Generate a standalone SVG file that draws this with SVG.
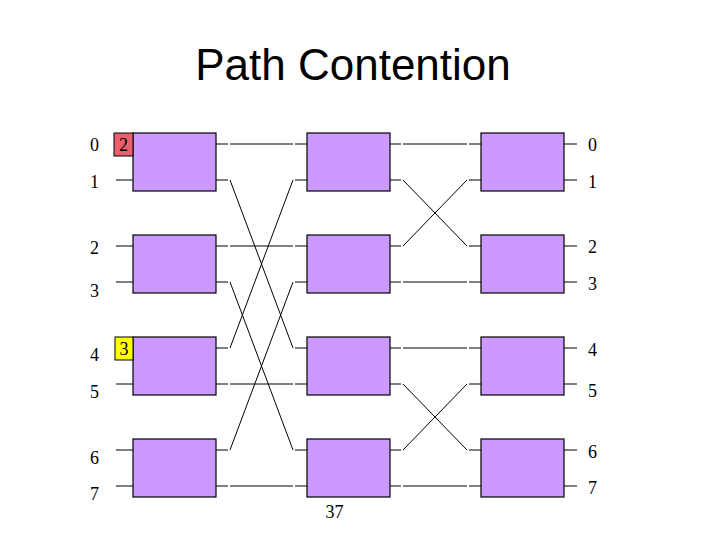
<svg xmlns="http://www.w3.org/2000/svg" width="720" height="540" viewBox="0 0 720 540">
<style>
.sw{fill:#CC99FF;stroke:#000;stroke-width:1.2}
.ln{stroke:#000;stroke-width:1;fill:none}
.num{font-family:"Liberation Serif",serif;font-size:18px;fill:#000}
.title{font-family:"Liberation Sans",Arial,sans-serif;font-size:44px;fill:#000}
</style>
<rect width="720" height="540" fill="#fff"/>
<text class="title" x="353" y="80" text-anchor="middle">Path Contention</text>
<g id="stubs" class="ln">
<path d="M116 180H133M116 246H133M116 282H133M116 384H133M116 450H133M116 486H133"/>
<path d="M216 144H228M216 180H228M216 246H228M216 282H228M216 348H228M216 384H228M216 450H228M216 486H228"/>
<path d="M295 144H307M295 180H307M295 246H307M295 282H307M295 348H307M295 384H307M295 450H307M295 486H307"/>
<path d="M390 144H401M390 180H401M390 246H401M390 282H401M390 348H401M390 384H401M390 450H401M390 486H401"/>
<path d="M469 144H481M469 180H481M469 246H481M469 282H481M469 348H481M469 384H481M469 450H481M469 486H481"/>
<path d="M564 144H577M564 180H577M564 246H577M564 282H577M564 348H577M564 384H577M564 450H577M564 486H577"/>
</g>
<g id="connectors" class="ln">
<path d="M230 144H293M230 180L293 348M230 246H293M230 282L293 450M230 348L293 180M230 384H293M230 450L293 282M230 486H293"/>
<path d="M403 144H467M403 180L467 246M403 246L467 180M403 282H467M403 348H467M403 384L467 450M403 450L467 384M403 486H467"/>
</g>
<g id="s1-0"><rect class="sw" x="133" y="133" width="83" height="58"/></g>
<g id="s1-1"><rect class="sw" x="133" y="235" width="83" height="58"/></g>
<g id="s1-2"><rect class="sw" x="133" y="337" width="83" height="58"/></g>
<g id="s1-3"><rect class="sw" x="133" y="439" width="83" height="58"/></g>
<g id="s2-0"><rect class="sw" x="307" y="133" width="83" height="58"/></g>
<g id="s2-1"><rect class="sw" x="307" y="235" width="83" height="58"/></g>
<g id="s2-2"><rect class="sw" x="307" y="337" width="83" height="58"/></g>
<g id="s2-3"><rect class="sw" x="307" y="439" width="83" height="58"/></g>
<g id="s3-0"><rect class="sw" x="481" y="133" width="83" height="58"/></g>
<g id="s3-1"><rect class="sw" x="481" y="235" width="83" height="58"/></g>
<g id="s3-2"><rect class="sw" x="481" y="337" width="83" height="58"/></g>
<g id="s3-3"><rect class="sw" x="481" y="439" width="83" height="58"/></g>
<g id="pkt-2"><rect x="114" y="133" width="19" height="23" fill="#E8606E" stroke="#000" stroke-width="1"/><text class="num" x="123.5" y="151" text-anchor="middle" fill="#300">2</text></g>
<g id="pkt-3"><rect x="115" y="337" width="18" height="23" fill="#FFFF00" stroke="#000" stroke-width="1"/><text class="num" x="124" y="355" text-anchor="middle">3</text></g>
<g id="in-labels">
<text class="num" x="90" y="151">0</text>
<text class="num" x="90" y="188">1</text>
<text class="num" x="90" y="254">2</text>
<text class="num" x="90" y="297">3</text>
<text class="num" x="90" y="361">4</text>
<text class="num" x="90" y="398">5</text>
<text class="num" x="90" y="464">6</text>
<text class="num" x="90" y="500">7</text>
</g>
<g id="out-labels">
<text class="num" x="588" y="151">0</text>
<text class="num" x="588" y="188">1</text>
<text class="num" x="588" y="253">2</text>
<text class="num" x="588" y="290">3</text>
<text class="num" x="588" y="356">4</text>
<text class="num" x="588" y="397">5</text>
<text class="num" x="588" y="458">6</text>
<text class="num" x="588" y="494">7</text>
</g>
<text class="num" x="334.5" y="518" text-anchor="middle">37</text>
</svg>
